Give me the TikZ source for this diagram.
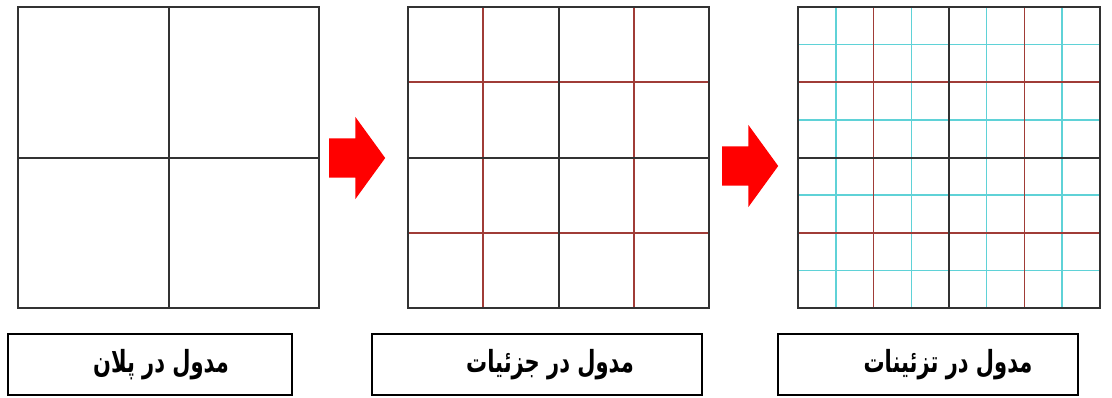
\documentclass[tikz,border=0pt]{standalone}
\usepackage{fontspec}
\newfontfamily\arabicfont[Script=Arabic]{DejaVu Sans}
\TeXXeTstate=1
\usetikzlibrary{shapes.arrows,calc}

\definecolor{gridred}{RGB}{160,60,55}
\definecolor{gridcyan}{RGB}{95,210,215}
\definecolor{gridblack}{RGB}{50,50,50}

\newcommand{\captext}[2]{\hspace*{#1}\scalebox{1}[1.45]{#2}}

\begin{document}
\begin{tikzpicture}[
        x=1pt, y=-1pt,
        major/.style={
            draw=gridblack,
            line width=2pt
        },
        minor/.style={
            draw=gridred,
            line width=1.4pt
        },
        fine/.style={
            draw=gridcyan,
            line width=1.5pt
        },
        panel/.style={
            rectangle,
            minimum width=301pt,
            minimum height=301pt,
            inner sep=0pt
        },
        flow/.style={
            single arrow,
            fill=red,
            draw=none,
            anchor=tail,
            inner sep=19.5pt,
            minimum height=56pt,
            single arrow head extend=21.5pt,
            single arrow tip angle=108
        },
        caption/.style={
            rectangle,
            draw=black,
            line width=1.6pt,
            minimum height=61pt,
            font=\arabicfont\bfseries\fontsize{21}{25}\selectfont
        }
    ]

    \useasboundingbox (0,0) rectangle (1112,397);

    \node[panel] (p1) at (168.5, 157.5) {};
    \node[panel] (p2) at (558.5, 157.5) {};
    \node[panel] (p3) at (949, 157.5) {};

    % fine lines, third panel only
    \foreach \f in {0.125,0.375,0.625,0.875} {
        \draw[fine] ($(p3.north west)!\f!(p3.north east)$) -- ($(p3.south west)!\f!(p3.south east)$);
        \draw[fine] ($(p3.north west)!\f!(p3.south west)$) -- ($(p3.north east)!\f!(p3.south east)$);
    }

    % red lines at quarters
    \foreach \p in {p2,p3} {
        \foreach \f in {0.25,0.75} {
            \draw[minor] ($(\p.north west)!\f!(\p.north east)$) -- ($(\p.south west)!\f!(\p.south east)$);
            \draw[minor] ($(\p.north west)!\f!(\p.south west)$) -- ($(\p.north east)!\f!(\p.south east)$);
        }
    }

    % black cross and frame
    \foreach \p in {p1,p2,p3} {
        \draw[major] (\p.north) -- (\p.south);
        \draw[major] (\p.west) -- (\p.east);
        \draw[major] (\p.north west) rectangle (\p.south east);
    }

    \node[flow] (a1) at (329, 158) {};
    \node[flow] (a2) at (722, 166) {};

    \node[caption, minimum width=284pt] (c1) at (150, 364.5) {\captext{22pt}{\beginR مدول در پلان\endR}};
    \node[caption, minimum width=330pt] (c2) at (537, 364.5) {\captext{26pt}{\beginR مدول در جزئیات\endR}};
    \node[caption, minimum width=300pt] (c3) at (928, 364.5) {\captext{40pt}{\beginR مدول در تزئینات\endR}};

\end{tikzpicture}
\end{document}
